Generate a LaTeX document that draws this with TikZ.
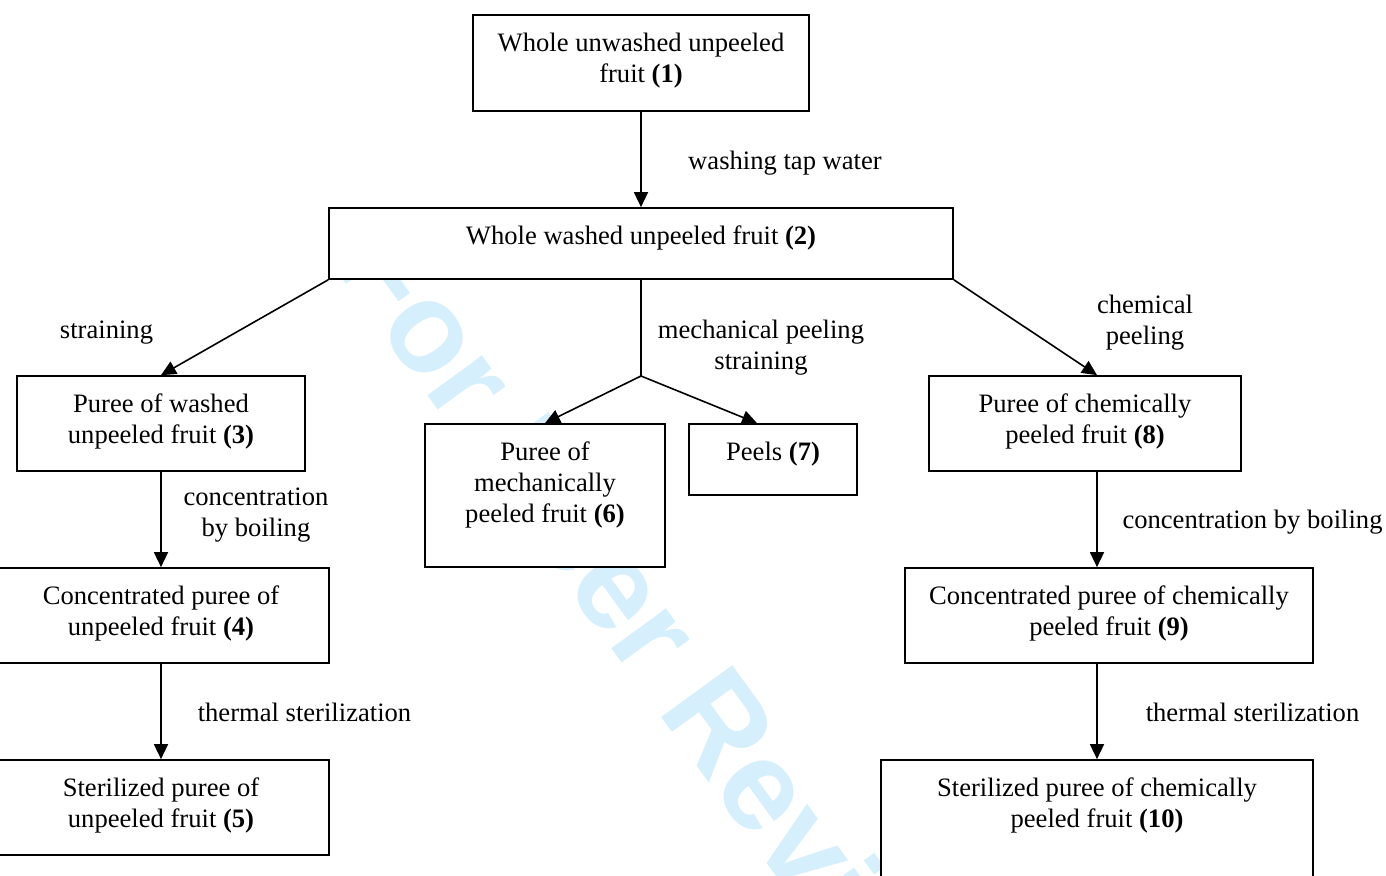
\documentclass[tikz,border=0pt]{standalone}
\usepackage{fontspec}
\setmainfont{Liberation Serif}
\newfontfamily\wmfont{Liberation Sans}
\usetikzlibrary{arrows.meta}
\definecolor{wmblue}{RGB}{213,239,252}
\tikzset{
  box/.style={draw=black, fill=white, line width=1.7pt, inner sep=0pt},
  txt/.style={font=\fontsize{26.6}{31}\selectfont, align=center, inner sep=0pt, anchor=north},
  lbl/.style={font=\fontsize{26.6}{31}\selectfont, align=center, inner sep=0pt, anchor=north},
  arr/.style={line width=1.6pt, -{Triangle[length=15pt,width=14pt]}},
  ln/.style={line width=1.6pt}
}
\begin{document}
\begin{tikzpicture}[x=1pt,y=-1pt]
\useasboundingbox (0,0) rectangle (1386,875);
\clip (0,0) rectangle (1386,875);
% watermark
\node[font=\wmfont\bfseries\fontsize{128}{128}\selectfont, text=wmblue, rotate=-54, anchor=base west, inner sep=0pt] (wm) at (330,262) {For Peer Review};
% boxes
\node[box, minimum width=336pt, minimum height=96pt] (b1) at (641,63) {};
\node[box, minimum width=624pt, minimum height=71pt] (b2) at (641,243.5) {};
\node[box, minimum width=288pt, minimum height=95pt] (b3) at (161,423.5) {};
\node[box, minimum width=336pt, minimum height=95pt] (b4) at (161,615.5) {};
\node[box, minimum width=336pt, minimum height=95pt] (b5) at (161,807.5) {};
\node[box, minimum width=240pt, minimum height=143pt] (b6) at (545,495.5) {};
\node[box, minimum width=168pt, minimum height=71pt] (b7) at (773,459.5) {};
\node[box, minimum width=312pt, minimum height=95pt] (b8) at (1085,423.5) {};
\node[box, minimum width=408pt, minimum height=95pt] (b9) at (1109,615.5) {};
\node[box, minimum width=432pt, minimum height=143pt] (b10) at (1097,831.5) {};
% box texts
\node[txt] (t1) at ([yshift=-15.8pt]b1.north) {\strut Whole unwashed unpeeled\\fruit \textbf{(1)}};
\node[txt] (t2) at ([yshift=-15.8pt]b2.north) {\strut Whole washed unpeeled fruit \textbf{(2)}};
\node[txt] (t3) at ([yshift=-15.8pt]b3.north) {\strut Puree of washed\\unpeeled fruit \textbf{(3)}};
\node[txt] (t4) at ([yshift=-15.8pt]b4.north) {\strut Concentrated puree of\\unpeeled fruit \textbf{(4)}};
\node[txt] (t5) at ([yshift=-15.8pt]b5.north) {\strut Sterilized puree of\\unpeeled fruit \textbf{(5)}};
\node[txt] (t6) at ([yshift=-15.8pt]b6.north) {\strut Puree of\\mechanically\\peeled fruit \textbf{(6)}};
\node[txt] (t7) at ([yshift=-15.8pt]b7.north) {\strut Peels \textbf{(7)}};
\node[txt] (t8) at ([yshift=-15.8pt]b8.north) {\strut Puree of chemically\\peeled fruit \textbf{(8)}};
\node[txt] (t9) at ([yshift=-15.8pt]b9.north) {\strut Concentrated puree of chemically\\peeled fruit \textbf{(9)}};
\node[txt] (t10) at ([yshift=-15.8pt]b10.north) {\strut Sterilized puree of chemically\\peeled fruit \textbf{(10)}};
% connectors
\coordinate (j) at (641,376);
\draw[arr] (b1.south) -- (b2.north);
\draw[arr] (b2.south west) -- (b3.north);
\draw[ln] (b2.south) -- (j);
\draw[arr] (j) -- (b6.north);
\draw[arr] (j) -- ([xshift=-16pt]b7.north);
\draw[arr] (b2.south east) -- ([xshift=12pt]b8.north);
\draw[arr] (b3.south) -- (b4.north);
\draw[arr] (b4.south) -- (b5.north);
\draw[arr] ([xshift=12pt]b8.south) -- ([xshift=-12pt]b9.north);
\draw[arr] ([xshift=-12pt]b9.south) -- (b10.north);
% labels
\node[lbl] (l1) at (785,147.3) {\strut washing tap water};
\node[lbl] (l2) at (106.5,316.3) {\strut straining};
\node[lbl] (l3) at (761,316.3) {\strut mechanical peeling\\straining};
\node[lbl] (l4) at (1145,291.3) {\strut chemical\\peeling};
\node[lbl] (l5) at (256,483.3) {\strut concentration\\by boiling};
\node[lbl] (l6) at (304.5,699.3) {\strut thermal sterilization};
\node[lbl] (l7) at (1252.5,506.3) {\strut concentration by boiling};
\node[lbl] (l8) at (1252.5,699.3) {\strut thermal sterilization};
\end{tikzpicture}
\end{document}
